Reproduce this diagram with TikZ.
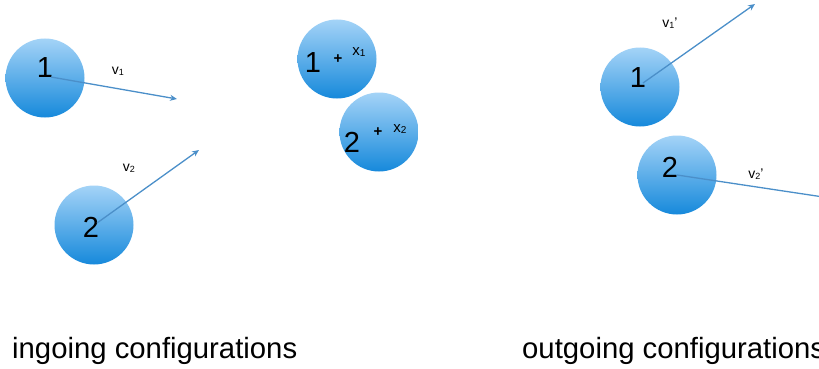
\documentclass[tikz,border=0pt]{standalone}
\usepackage{fontspec}
\setmainfont{Liberation Sans}
\usetikzlibrary{arrows.meta,positioning,calc}
\definecolor{ballTop}{HTML}{A4D3F7}
\definecolor{ballBot}{HTML}{1689DB}
\definecolor{arrBlue}{HTML}{4B8FC9}

\begin{document}
\begin{tikzpicture}[
  x=1pt, y=-1pt,
  ball/.style={circle, minimum size=79pt, inner sep=0pt, top color=ballTop, bottom color=ballBot},
  num/.style={inner sep=0pt, font=\fontsize{29}{29}\selectfont},
  vel/.style={inner sep=0pt, font=\fontsize{14}{14}\selectfont},
  spot/.style={inner sep=0pt, font=\fontsize{15}{15}\selectfont},
  capt/.style={anchor=base west, inner sep=0pt, font=\fontsize{29.3}{30}\selectfont},
  arr/.style={-{Stealth[length=7pt,width=6pt]}, draw=arrBlue, line width=1.3pt}
]
\useasboundingbox (0,0) rectangle (819,369);
\clip (0,0) rectangle (819,369);

% ingoing
\node[ball] (in1) at (45,78) {};
\node[num] (in1n) at (45,68) {1};
\node[ball] (in2) at (94,225) {};
\node[num] (in2n) at (91,227) {2};
\coordinate (in1v) at (177,99);
\coordinate (in2v) at (199,150);
\draw[arr] ($(in1.center)+(6,-1)$) -- (in1v);
\draw[arr] ($(in2.center)+(3,-2)$) -- (in2v);
\node[vel] (v1) at (118,71) {v{\fontsize{9}{9}\selectfont\raisebox{-1pt}{1}}};
\node[vel] (v2) at (129,168) {v{\fontsize{9}{9}\selectfont\raisebox{-1pt}{2}}};

% collision
\node[ball] (c1) at (337,59) {};
\node[num] (c1n) at (313,63) {1};
\node[spot] (c1p) at (338,59) {\textbf{+}};
\node[spot] (x1) at (359,52) {x{\fontsize{10}{10}\selectfont\raisebox{-1pt}{1}}};
\node[ball] (c2) at (379,132) {};
\node[num] (c2n) at (352,142) {2};
\node[spot] (c2p) at (378,132) {\textbf{+}};
\node[spot] (x2) at (400,129) {x{\fontsize{10}{10}\selectfont\raisebox{-1pt}{2}}};

% outgoing
\node[ball] (out1) at (640,87) {};
\node[num] (out1n) at (638,78) {1};
\node[ball] (out2) at (677,175) {};
\node[num] (out2n) at (670,167) {2};
\coordinate (out1v) at (755,4);
\coordinate (out2v) at (830,198);
\draw[arr] ($(out1.center)+(3,-4)$) -- (out1v);
\draw[arr] (out2.center) -- (out2v);
\node[vel] (v1p) at (670,23) {v{\fontsize{9}{9}\selectfont\raisebox{-1pt}{1}}’};
\node[vel] (v2p) at (756,174) {v{\fontsize{9}{9}\selectfont\raisebox{-1pt}{2}}’};

\node[capt] (inlab) at (12,358) {ingoing configurations};
\node[capt] (outlab) at (522,358) {outgoing configurations};
\end{tikzpicture}
\end{document}
